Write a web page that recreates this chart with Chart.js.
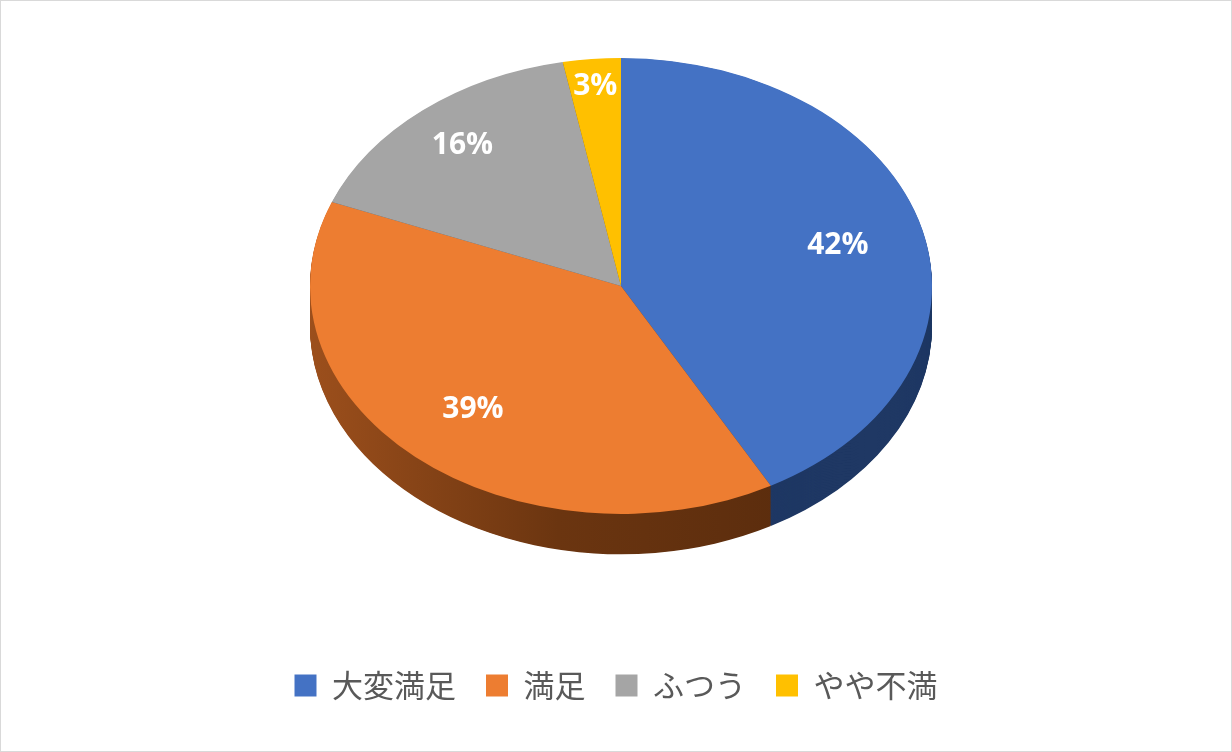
<!DOCTYPE html>
<html lang="ja">
<head>
<meta charset="UTF-8">
<title>満足度</title>
<script src="https://cdn.jsdelivr.net/npm/chart.js@4.4.0/dist/chart.umd.min.js"></script>
<style>
  body { margin: 0; background: #fff; }
  .wrap { position: relative; width: 1230px; height: 750px; border: 1px solid #d9d9d9; }
</style>
</head>
<body>
<div class="wrap"><canvas id="pie"></canvas></div>
<script>
const labels = ['大変満足', '満足', 'ふつう', 'やや不満'];
const values = [42, 39, 16, 3];
const colors = ['#4472c4', '#ed7d31', '#a5a5a5', '#ffc000'];
const sideColors = ['#1f3864', '#6b3510', '#5a5a5a', '#8a6800'];

const TILT = 0.733, CX = 620, CY = 285, DEPTH = 40;

const pie3d = {
  id: 'pie3d',
  beforeDatasetsDraw(chart) {
    const ctx = chart.ctx;
    const arcs = chart.getDatasetMeta(0).data;
    const a0 = arcs[0];
    ctx.save();
    ctx.translate(CX, CY);
    ctx.scale(1, TILT);
    ctx.translate(-a0.x, -a0.y);
    const depth = DEPTH / TILT;
    for (let d = Math.round(depth); d >= 1; d--) {
      arcs.forEach((a, i) => {
        let fill = sideColors[i];
        if (i === 1) {
          const g = ctx.createLinearGradient(a.x - a.outerRadius, 0, a.x + a.outerRadius * 0.6, 0);
          g.addColorStop(0, '#9c4f1c');
          g.addColorStop(0.5, '#6b3510');
          g.addColorStop(1, '#5a2c0d');
          fill = g;
        }
        ctx.beginPath();
        ctx.moveTo(a.x, a.y + d);
        ctx.arc(a.x, a.y + d, a.outerRadius, a.startAngle, a.endAngle);
        ctx.closePath();
        ctx.fillStyle = fill;
        ctx.fill();
      });
    }
  },
  afterDatasetsDraw(chart) {
    const ctx = chart.ctx;
    ctx.restore();
    const arcs = chart.getDatasetMeta(0).data;
    ctx.save();
    ctx.font = 'bold 30px "Open Sans", "Noto Sans", sans-serif';
    ctx.fillStyle = '#fff';
    ctx.textAlign = 'center';
    ctx.textBaseline = 'middle';
    arcs.forEach((a, i) => {
      const mid = (a.startAngle + a.endAngle) / 2;
      const k = values[i] < 10 ? 0.88 : (values[i] < 20 ? 0.8 : 0.72);
      const x = CX + Math.cos(mid) * a.outerRadius * k;
      const y = CY + Math.sin(mid) * a.outerRadius * k * TILT;
      ctx.fillText(values[i] + '%', x, y);
    });
    ctx.restore();
  }
};

new Chart(document.getElementById('pie'), {
  type: 'pie',
  data: {
    labels: labels,
    datasets: [{
      data: values,
      backgroundColor: colors,
      borderWidth: 0,
      radius: 311
    }]
  },
  options: {
    responsive: true,
    maintainAspectRatio: false,
    animation: false,
    layout: { padding: { bottom: 40 } },
    plugins: {
      tooltip: { enabled: false },
      legend: {
        position: 'bottom',
        labels: {
          color: '#595959',
          font: { size: 31, family: '"Noto Sans CJK JP", sans-serif' },
          boxWidth: 22,
          boxHeight: 22,
          padding: 30
        }
      }
    }
  },
  plugins: [pie3d]
});
</script>
</body>
</html>
